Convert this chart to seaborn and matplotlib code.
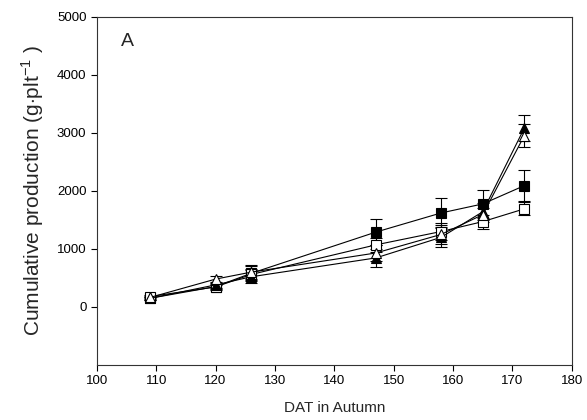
import matplotlib
matplotlib.use("Agg")
import matplotlib.pyplot as plt
import seaborn as sns
import pandas as pd
import numpy as np

dat = [109, 120, 126, 147, 158, 165, 172]
filled_sq = [150, 350, 580, 1290, 1620, 1775, 2090]
filled_sq_err = [30, 50, 130, 220, 260, 240, 270]
open_sq = [180, 345, 560, 1070, 1300, 1470, 1690]
open_sq_err = [30, 40, 100, 120, 140, 120, 110]
filled_tri = [150, 380, 520, 845, 1200, 1640, 3080]
filled_tri_err = [30, 50, 110, 150, 170, 150, 220]
open_tri = [165, 480, 600, 930, 1250, 1590, 2950]
open_tri_err = [30, 60, 120, 130, 160, 120, 200]

series = [
    ("filled square", filled_sq, filled_sq_err, "s", "black"),
    ("open square", open_sq, open_sq_err, "s", "white"),
    ("filled triangle", filled_tri, filled_tri_err, "^", "black"),
    ("open triangle", open_tri, open_tri_err, "^", "white"),
]

sns.set_style("ticks")
plt.rcParams['font.family'] = ['Liberation Sans', 'DejaVu Sans']
plt.rcParams['mathtext.fontset'] = 'custom'
plt.rcParams['mathtext.rm'] = 'Liberation Sans'

fig = plt.figure(figsize=(5.87, 4.2), dpi=100)
ax = fig.add_axes([0.165, 0.131, 0.809, 0.829])

for name, vals, errs, mk, fc in series:
    df = pd.DataFrame({"x": dat, "y": vals})
    ax.errorbar(dat, vals, yerr=errs, fmt="none", ecolor="black",
                elinewidth=0.8, capsize=4, capthick=0.8, zorder=2)
    sns.lineplot(data=df, x="x", y="y", ax=ax, color="black", linewidth=0.8,
                 marker=mk, markersize=6.5, markerfacecolor=fc,
                 markeredgecolor="black", markeredgewidth=0.8, zorder=3)

ax.set_xlim(100, 180)
ax.set_ylim(-1000, 5000)
ax.set_xticks(np.arange(100, 181, 10))
ax.set_yticks(np.arange(0, 5001, 1000))
ax.tick_params(labelsize=9.5, direction="out", length=4, width=0.8, colors="black")
for s in ax.spines.values():
    s.set_visible(True)
    s.set_linewidth(0.8)
    s.set_color("#333333")
ax.set_xlabel("DAT in Autumn", fontsize=11, labelpad=10)
ax.set_ylabel("Cumulative production (g$\\cdot$plt$^{\\mathrm{-1}}$ )", fontsize=15, labelpad=8)
ax.text(104, 4500, "A", fontsize=14)

fig.savefig("out.png", dpi=100)
